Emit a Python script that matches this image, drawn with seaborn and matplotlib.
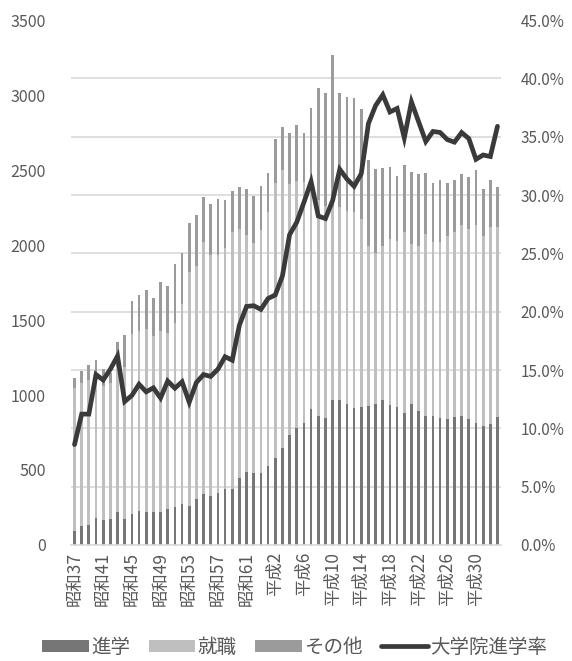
import numpy as np
import pandas as pd
import matplotlib
matplotlib.use("Agg")
import matplotlib.pyplot as plt
from matplotlib.patches import Patch
from matplotlib.lines import Line2D
from matplotlib.ticker import FuncFormatter, MultipleLocator
import seaborn as sns

# 年度（昭和37年度〜令和3年度）
years = [
    "昭和37", "昭和38", "昭和39", "昭和40", "昭和41", "昭和42", "昭和43", "昭和44",
    "昭和45", "昭和46", "昭和47", "昭和48", "昭和49", "昭和50", "昭和51", "昭和52",
    "昭和53", "昭和54", "昭和55", "昭和56", "昭和57", "昭和58", "昭和59", "昭和60",
    "昭和61", "昭和62", "昭和63", "平成元", "平成2", "平成3", "平成4", "平成5",
    "平成6", "平成7", "平成8", "平成9", "平成10", "平成11", "平成12", "平成13",
    "平成14", "平成15", "平成16", "平成17", "平成18", "平成19", "平成20", "平成21",
    "平成22", "平成23", "平成24", "平成25", "平成26", "平成27", "平成28", "平成29",
    "平成30", "令和元", "令和2", "令和3",
]

# 卒業後の進路（人）
shingaku = [
    96, 129, 135, 178, 166, 175, 217, 170, 208, 229, 221, 219, 219, 241, 250, 271,
    262, 305, 338, 326, 348, 371, 372, 447, 486, 479, 483, 526, 580, 645, 731, 780,
    812, 906, 860, 844, 966, 969, 937, 912, 923, 924, 943, 968, 933, 919, 882, 943,
    892, 857, 858, 848, 841, 855, 862, 838, 812, 793, 808, 852,
]
shushoku = [
    948, 949, 965, 911, 894, 903, 968, 1019, 1196, 1199, 1219, 1176, 1206, 1170, 1228, 1334,
    1558, 1555, 1680, 1609, 1587, 1606, 1713, 1658, 1579, 1533, 1616, 1694, 1833, 1853, 1674, 1645,
    1608, 1534, 1440, 1416, 1289, 1286, 1288, 1310, 1250, 1069, 1001, 1025, 1107, 1107, 1202, 1064,
    1101, 1216, 1164, 1174, 1219, 1229, 1271, 1268, 1321, 1267, 1314, 1270,
]
sonota = [
    67, 84, 100, 144, 113, 71, 166, 209, 225, 242, 262, 255, 330, 314, 397, 345,
    325, 337, 305, 337, 373, 323, 278, 282, 310, 318, 294, 260, 297, 291, 340, 375,
    328, 472, 750, 755, 1015, 760, 760, 756, 733, 575, 564, 523, 478, 434, 448, 483,
    483, 410, 391, 414, 353, 352, 339, 348, 364, 315, 310, 264,
]
# 大学院進学率（%）
rate = [
    8.61, 11.22, 11.22, 14.61, 14.14, 15.07, 16.2, 12.3, 12.82, 13.78, 13.13, 13.47,
    12.6, 14.05, 13.44, 13.99, 12.24, 13.93, 14.61, 14.45, 15.07, 16.14, 15.84, 18.85,
    20.45, 20.51, 20.2, 21.13, 21.43, 23.06, 26.6, 27.67, 29.37, 31.15, 28.2, 27.98,
    29.52, 32.2, 31.37, 30.75, 31.83, 36.13, 37.67, 38.59, 37.12, 37.42, 34.9, 37.98,
    36.28, 34.59, 35.45, 35.36, 34.75, 34.53, 35.36, 34.84, 33.06, 33.43, 33.3, 35.89,
]

df = pd.DataFrame({"年度": years, "進学": shingaku, "就職": shushoku, "その他": sonota,
                   "大学院進学率": rate})
df["進学+就職"] = df["進学"] + df["就職"]
df["合計"] = df["進学+就職"] + df["その他"]
df["pos"] = np.arange(len(df))

c_shin = "#767676"
c_shu = "#bfbfbf"
c_oth = "#9b9b9b"
c_line = "#3a3a3a"
c_text = "#595959"
c_grid = "#d9d9d9"

sns.set_theme(style="white")
plt.rcParams["font.family"] = ["Noto Sans CJK JP", "DejaVu Sans"]

fig = plt.figure(figsize=(5.72, 6.61), dpi=100)
ax = fig.add_axes([0.124, 0.1755, 0.752, 0.7942])

bw = 0.38
# 積み上げ棒：合計 → 進学+就職 → 進学 の順に重ねて描く
sns.barplot(data=df, x="年度", y="合計", order=years, color=c_oth, saturation=1,
            width=bw, ax=ax, zorder=2)
sns.barplot(data=df, x="年度", y="進学+就職", order=years, color=c_shu, saturation=1,
            width=bw, ax=ax, zorder=2)
sns.barplot(data=df, x="年度", y="進学", order=years, color=c_shin, saturation=1,
            width=bw, ax=ax, zorder=2)
for p in ax.patches:
    p.set_linewidth(0)

ax.set_xlim(-0.5, len(years) - 0.5)
ax.set_ylim(0, 3500)
ax.yaxis.set_major_locator(MultipleLocator(500))
ax.set_yticks(np.linspace(0, 3500, 10), minor=True)
ax.grid(False)
ax.grid(which="minor", axis="y", color=c_grid, linewidth=1.2, zorder=0)
ax.set_axisbelow(True)
ax.set_xlabel("")
ax.set_ylabel("")

ticks = list(range(0, len(years), 4))
ax.set_xticks(ticks)
ax.set_xticklabels([years[i] for i in ticks], rotation=90, fontsize=12.5, color=c_text)
ax.tick_params(axis="x", length=0, pad=5)
ax.tick_params(axis="y", which="both", length=0, labelsize=11.5, labelcolor=c_text, pad=18)
for lab in ax.get_yticklabels():
    lab.set_horizontalalignment("right")

for s in ["top", "right", "left"]:
    ax.spines[s].set_visible(False)
ax.spines["bottom"].set_color(c_grid)
ax.spines["bottom"].set_linewidth(1.2)

ax2 = ax.twinx()
sns.lineplot(data=df, x="pos", y="大学院進学率", color=c_line, linewidth=3.4, ax=ax2,
             zorder=5, solid_joinstyle="miter")
ax2.set_ylim(0, 45)
ax2.yaxis.set_major_locator(MultipleLocator(5))
ax2.yaxis.set_major_formatter(FuncFormatter(lambda v, _: f"{v:.1f}%"))
ax2.tick_params(axis="y", length=0, labelsize=11, labelcolor=c_text, pad=14)
ax2.set_ylabel("")
ax2.grid(False)
for s in ax2.spines.values():
    s.set_visible(False)

handles = [
    Patch(facecolor=c_shin, edgecolor="none", label="進学"),
    Patch(facecolor=c_shu, edgecolor="none", label="就職"),
    Patch(facecolor=c_oth, edgecolor="none", label="その他"),
    Line2D([0], [0], color=c_line, linewidth=3.4, label="大学院進学率"),
]
fig.legend(handles=handles, loc="center", bbox_to_anchor=(0.515, 0.021), ncol=4,
           frameon=False, fontsize=14, handlelength=2.4, handleheight=0.6,
           handletextpad=0.12, columnspacing=0.95, borderpad=0, labelcolor=c_text)

fig.savefig("out.png", dpi=100)
